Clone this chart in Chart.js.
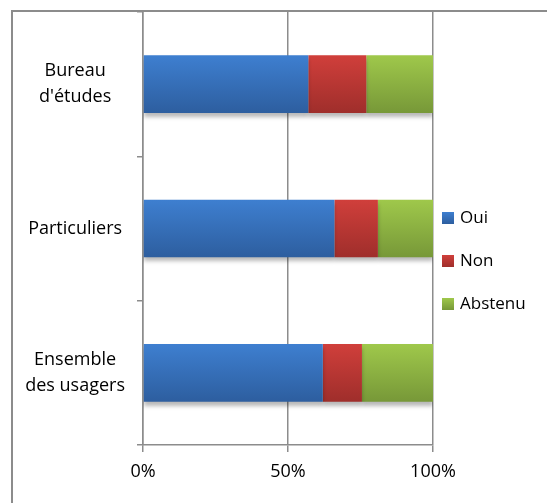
<!DOCTYPE html>
<html>
<head>
<meta charset="utf-8">
<script src="https://cdn.jsdelivr.net/npm/chart.js@4"></script>
<style>
  html, body { margin: 0; padding: 0; background: #fff; }
  body { width: 547px; height: 503px; position: relative; overflow: hidden; font-family: "Open Sans", sans-serif; }
  #frame { position: absolute; left: 11px; top: 10px; width: 600px; height: 600px; border-top: 2px solid #8c8c8c; border-left: 2px solid #8c8c8c; box-sizing: border-box; }
  #wrap { position: absolute; left: 0; top: 0; width: 547px; height: 503px; }
  #legend { position: absolute; left: 442px; top: 205px; margin: 0; padding: 0; list-style: none; }
  #legend li { height: 43px; display: flex; align-items: flex-start; font-size: 17px; color: #000; line-height: 24px; }
  #legend .box { width: 12px; height: 12px; margin-top: 7px; margin-right: 6px; }
</style>
</head>
<body>
<div id="frame"></div>
<div id="wrap"><canvas id="c" width="547" height="503"></canvas></div>
<ul id="legend"></ul>
<script>
// ---- Data ----
const categories = [["Bureau", "d'études"], ["Particuliers"], ["Ensemble", "des usagers"]];
const seriesNames = ["Oui", "Non", "Abstenu"];
const oui = [57, 66, 62];
const non = [20, 15, 13.5];
const abstenu = [23, 19, 24.5];
const xTicks = [0, 50, 100];

const palette = [
  ["#3e7fd0", "#2d5e9f"],
  ["#d03f3b", "#9f2e2b"],
  ["#9fc84b", "#779838"]
];

function grad(top, bottom) {
  return (ctx) => {
    const chart = ctx.chart;
    const y = chart.scales && chart.scales.y;
    if (!y || ctx.dataIndex === undefined || !isFinite(y.top)) return top;
    const center = y.getPixelForValue(ctx.dataIndex);
    const h = (y.bottom - y.top) / categories.length * 0.4;
    const g = chart.ctx.createLinearGradient(0, center - h / 2, 0, center + h / 2);
    g.addColorStop(0, top);
    g.addColorStop(1, bottom);
    return g;
  };
}

const shadowPlugin = {
  id: 'barShadow',
  beforeDatasetsDraw(chart) {
    const c = chart.ctx;
    c.save();
    c.shadowColor = 'rgba(0,0,0,0.28)';
    c.shadowBlur = 4;
    c.shadowOffsetX = 0;
    c.shadowOffsetY = 4;
  },
  afterDatasetsDraw(chart) { chart.ctx.restore(); }
};

const seriesData = [oui, non, abstenu];
const gridColor = '#8c8c8c';

const chart = new Chart(document.getElementById('c'), {
  type: 'bar',
  data: {
    labels: categories,
    datasets: seriesNames.map((name, i) => ({
      label: name,
      data: seriesData[i],
      backgroundColor: grad(palette[i][0], palette[i][1]),
      borderWidth: 0,
      barPercentage: 0.4,
      categoryPercentage: 1.0
    }))
  },
  options: {
    indexAxis: 'y',
    responsive: false,
    animation: false,
    layout: { padding: { top: 12, right: 114, bottom: 0, left: 0 } },
    plugins: { legend: { display: false }, tooltip: { enabled: false } },
    scales: {
      x: {
        stacked: true,
        min: 0, max: 100,
        afterBuildTicks: (s) => { s.ticks = xTicks.map(v => ({ value: v })); },
        afterFit: (s) => { s.height = 58; s.paddingLeft = 0; s.paddingRight = 0; },
        ticks: {
          callback: (v) => v + '%',
          color: '#000',
          font: { family: 'Open Sans', size: 18 },
          padding: 9
        },
        grid: { color: gridColor, lineWidth: 1.5, tickLength: 7, drawTicks: true },
        border: { color: gridColor, width: 1.5 }
      },
      y: {
        stacked: true,
        afterFit: (s) => { s.width = 143; s.paddingTop = 0; s.paddingBottom = 0; },
        ticks: {
          crossAlign: 'center',
          color: '#000',
          font: { family: 'Open Sans', size: 18, lineHeight: 1.45 },
          padding: 12
        },
        grid: { drawOnChartArea: false, color: gridColor, lineWidth: 1.5, tickLength: 6, offset: true },
        border: { color: gridColor, width: 1.5 }
      }
    }
  },
  plugins: [shadowPlugin]
});

// HTML legend built from the chart datasets
const ul = document.getElementById('legend');
chart.data.datasets.forEach((ds, i) => {
  const li = document.createElement('li');
  const b = document.createElement('span');
  b.className = 'box';
  b.style.background = 'linear-gradient(' + palette[i][0] + ',' + palette[i][1] + ')';
  const t = document.createElement('span');
  t.textContent = ds.label;
  li.appendChild(b); li.appendChild(t);
  ul.appendChild(li);
});
</script>
</body>
</html>
